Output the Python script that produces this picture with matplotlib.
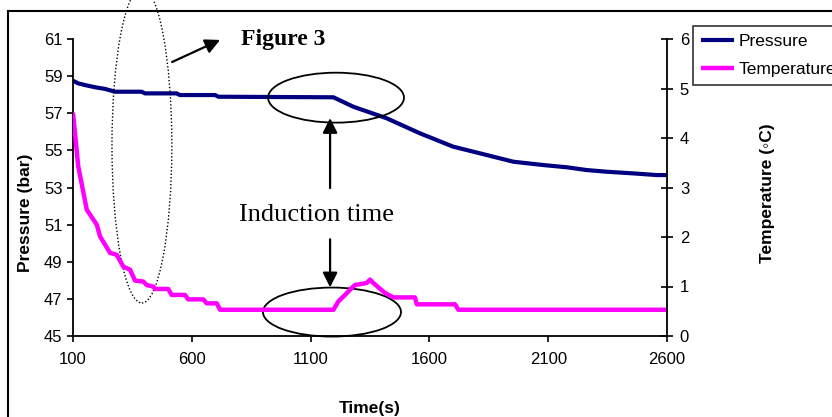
import matplotlib
matplotlib.use("Agg")
import matplotlib.pyplot as plt
from matplotlib.patches import Ellipse, Rectangle

plt.rcParams['font.family'] = ['Liberation Sans', 'DejaVu Sans']

# pressure (bar) vs time (s)
time_p = [100, 122, 150, 193, 235, 277, 389, 403, 536, 550, 698, 712, 1196,
          1280, 1420, 1560, 1700, 1841, 1897, 1953, 2079, 2178, 2262, 2346,
          2458, 2557, 2600]
pressure = [58.75, 58.61, 58.52, 58.40, 58.31, 58.16, 58.16, 58.07, 58.07,
            57.98, 57.98, 57.89, 57.86, 57.35, 56.73, 55.92, 55.20, 54.75,
            54.57, 54.39, 54.21, 54.09, 53.94, 53.85, 53.76, 53.67, 53.67]

# temperature (C) vs time (s)
time_t = [100, 122, 158, 200, 214, 256, 284, 312, 340, 361, 396, 410, 438,
          445, 501, 515, 571, 585, 648, 663, 705, 719, 1196, 1217, 1245, 1273,
          1287, 1336, 1350, 1364, 1413, 1448, 1539, 1547, 1708, 1722, 2600]
temperature = [4.51, 3.43, 2.55, 2.25, 2.01, 1.68, 1.64, 1.40, 1.34, 1.12,
               1.10, 1.03, 1.00, 0.95, 0.95, 0.83, 0.83, 0.74, 0.74, 0.66,
               0.66, 0.53, 0.53, 0.70, 0.83, 0.97, 1.03, 1.07, 1.14, 1.07,
               0.87, 0.78, 0.78, 0.64, 0.64, 0.53, 0.53]

x_ticks = [100, 600, 1100, 1600, 2100, 2600]
p_ticks = [45, 47, 49, 51, 53, 55, 57, 59, 61]
t_ticks = [0, 1, 2, 3, 4, 5, 6]

W, H = 832, 417
fig = plt.figure(figsize=(W / 100, H / 100), dpi=100)
ax = fig.add_axes([73 / W, 1 - 336 / H, 594 / W, 297 / H])
ax2 = ax.twinx()

l1, = ax.plot(time_p, pressure, color='#000080', lw=3, solid_capstyle='butt',
              label='Pressure')
l2, = ax2.plot(time_t, temperature, color='#FF00FF', lw=3.2,
               solid_capstyle='butt', label='Temperature')

ax.set_xlim(100, 2600)
ax.set_ylim(45, 61)
ax2.set_ylim(0, 6)
ax.set_xticks(x_ticks)
ax.set_yticks(p_ticks)
ax2.set_yticks(t_ticks)

for a in (ax, ax2):
    a.spines['top'].set_visible(False)
    for s in a.spines.values():
        s.set_linewidth(1.3)
ax.spines['right'].set_visible(False)
ax2.spines['left'].set_visible(False)
ax2.spines['bottom'].set_visible(False)

ax.tick_params(axis='both', direction='out', length=4.5, width=1.2,
               labelsize=12, pad=3)
ax.tick_params(axis='x', pad=7)
ax2.tick_params(axis='y', direction='inout', length=8.5, width=1.2,
                labelsize=12, pad=5)

ax.set_xlabel('Time(s)', fontsize=12.5, fontweight='bold')
ax.xaxis.set_label_coords(0.5, -0.22)
ax.set_ylabel('Pressure (bar)', fontsize=12.5, fontweight='bold')
ax.yaxis.set_label_coords(-0.067, 0.414)
ax2.set_ylabel('Temperature (\u25e6C)', fontsize=12.5, fontweight='bold')
ax2.yaxis.set_label_coords(1.157, 0.48)

# legend box runs past the right edge, as in the original
leg = fig.legend(handles=[l1, l2], loc='upper left',
                 bbox_to_anchor=(693 / W, 1 - 26 / H), fontsize=12.5,
                 frameon=True, fancybox=False, edgecolor='black',
                 handlelength=1.9, handletextpad=0.3, labelspacing=0.75,
                 borderpad=0.45, borderaxespad=0)
leg.get_frame().set_linewidth(1.2)

# outer chart border (cut by the picture edge)
fig.add_artist(Rectangle((8 / W, -0.5), 2, 1 - 11 / H + 0.5,
                         transform=fig.transFigure, fill=False,
                         ec='black', lw=1.5))

# annotations, in pressure-axis data coordinates
ann = dict(xycoords=ax.transData, textcoords=ax.transData,
           annotation_clip=False)
ax2.add_patch(Ellipse((390, 55.26), 252, 16.97, transform=ax.transData,
                      fill=False, ec='black', lw=1,
                      linestyle=(0, (1, 1.5)), clip_on=False))
ax2.add_patch(Ellipse((1207, 57.84), 572, 2.69, transform=ax.transData,
                      fill=False, ec='black', lw=1.3, clip_on=False))
ax2.add_patch(Ellipse((1190, 46.29), 581, 2.64, transform=ax.transData,
                      fill=False, ec='black', lw=1.3, clip_on=False))

ax2.annotate('', xy=(719, 60.95), xytext=(517, 59.76),
             arrowprops=dict(arrowstyle='-|>', color='black', lw=1.6,
                             mutation_scale=22, shrinkA=0, shrinkB=0), **ann)
ax2.annotate('', xy=(1182, 56.74), xytext=(1182, 52.97),
             arrowprops=dict(arrowstyle='-|>', color='black', lw=1.6,
                             mutation_scale=22, shrinkA=0, shrinkB=0), **ann)
ax2.annotate('', xy=(1182, 47.62), xytext=(1182, 50.21),
             arrowprops=dict(arrowstyle='-|>', color='black', lw=1.6,
                             mutation_scale=22, shrinkA=0, shrinkB=0), **ann)

ax2.text(984, 60.95, 'Figure 3', transform=ax.transData, ha='center',
         va='center', fontsize=17, fontweight='bold',
         family='Liberation Serif')
ax2.text(1123, 51.52, 'Induction time', transform=ax.transData, ha='center',
         va='center', fontsize=19, family='Liberation Serif')

fig.savefig('out.png', dpi=100)
